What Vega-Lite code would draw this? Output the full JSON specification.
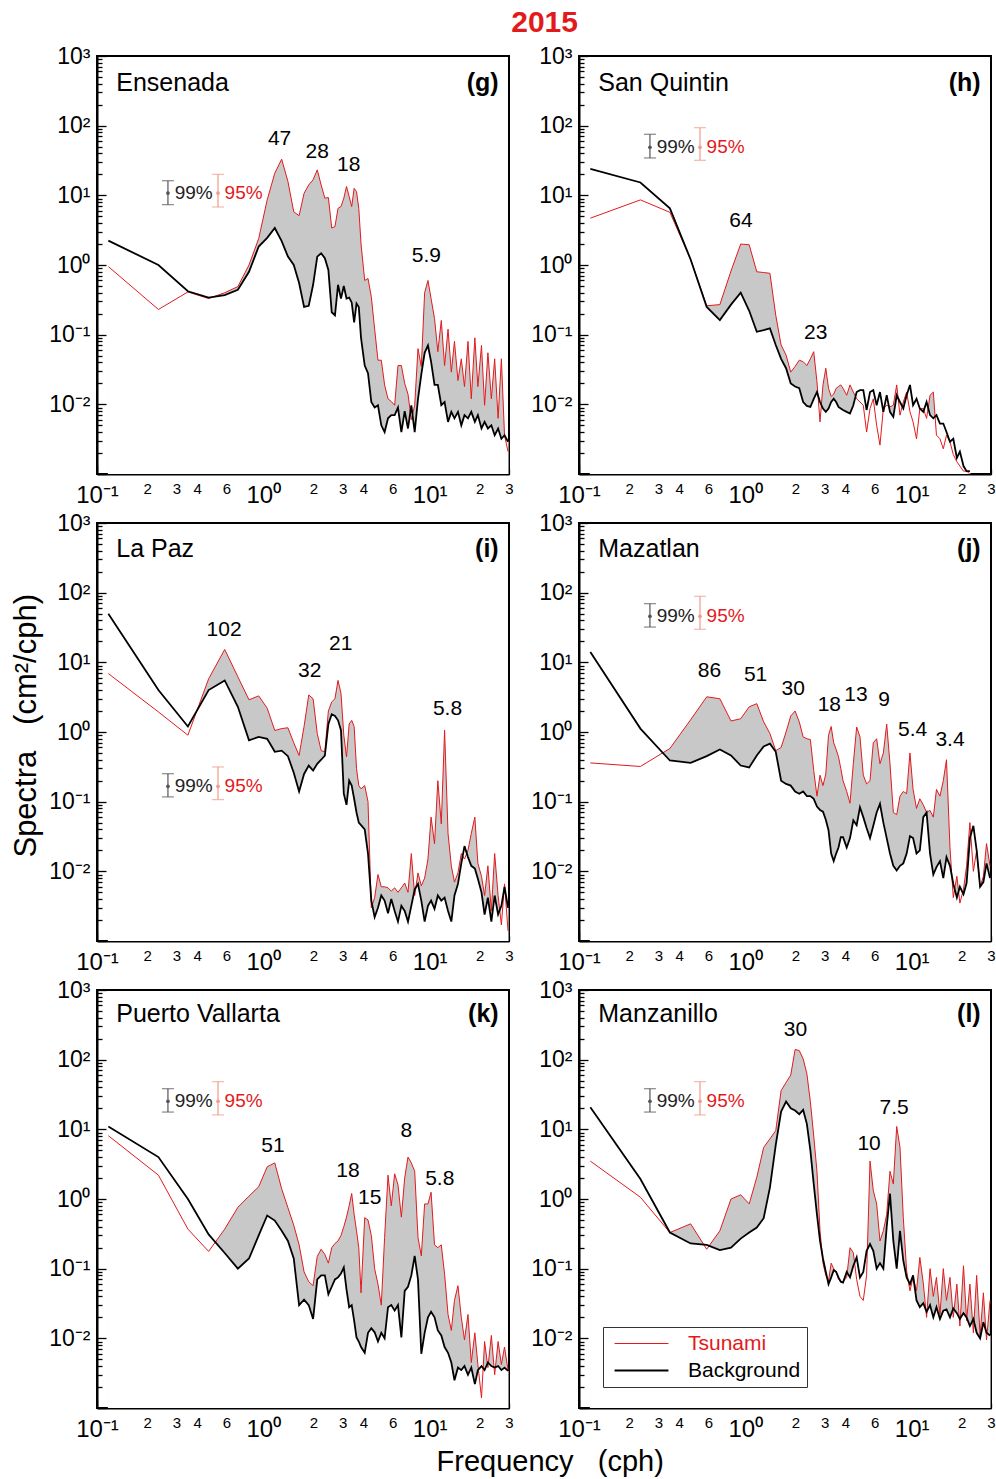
{
"$schema": "https://vega.github.io/schema/vega-lite/v6.json",
"background": "white",
"padding": {"left": 10, "top": 8, "right": 0, "bottom": 0},
"title": {"text": "2015", "color": "#e31a1c", "fontSize": 30, "fontWeight": "bold", "font": "Liberation Sans", "anchor": "middle", "offset": 6, "dx": 41},
"datasets": {
"panels": [
{"p":"g","r":1,"c":1},{"p":"h","r":1,"c":2},{"p":"i","r":2,"c":1},{"p":"j","r":2,"c":2},{"p":"k","r":3,"c":1},{"p":"l","r":3,"c":2}
]
},
"data": {"values": [
{"p":"g","f":0.117,"t":0.95,"b":2.24},{"p":"g","f":0.234,"t":0.23,"b":1.0},{"p":"g","f":0.352,"t":0.41,"b":0.42},{"p":"g","f":0.469,"t":0.33,"b":0.34},{"p":"g","f":0.586,"t":0.40,"b":0.37},{"p":"g","f":0.703,"t":0.49,"b":0.44},{"p":"g","f":0.82,"t":1.0,"b":0.80},{"p":"g","f":0.938,"t":2.4,"b":1.84},{"p":"g","f":1.055,"t":8.6,"b":2.45},{"p":"g","f":1.172,"t":20.8,"b":3.4},{"p":"g","f":1.289,"t":33,"b":2.2},{"p":"g","f":1.406,"t":15.8,"b":1.32},{"p":"g","f":1.524,"t":5.8,"b":1.0},{"p":"g","f":1.641,"t":5.1,"b":0.55},{"p":"g","f":1.758,"t":10.7,"b":0.25},{"p":"g","f":1.875,"t":14.1,"b":0.26},{"p":"g","f":1.992,"t":16.7,"b":0.52},{"p":"g","f":2.11,"t":23.2,"b":1.32},{"p":"g","f":2.227,"t":14.1,"b":1.47},{"p":"g","f":2.344,"t":9.1,"b":1.25},{"p":"g","f":2.461,"t":9.3,"b":0.85},{"p":"g","f":2.578,"t":3.4,"b":0.21},{"p":"g","f":2.696,"t":3.56,"b":0.19},{"p":"g","f":2.813,"t":6.5,"b":0.52},{"p":"g","f":2.93,"t":6.9,"b":0.33},{"p":"g","f":3.047,"t":9.1,"b":0.50},{"p":"g","f":3.164,"t":13.4,"b":0.33},{"p":"g","f":3.282,"t":9.6,"b":0.34},{"p":"g","f":3.399,"t":6.9,"b":0.29},{"p":"g","f":3.516,"t":12.6,"b":0.15},{"p":"g","f":3.633,"t":11.3,"b":0.28},{"p":"g","f":3.75,"t":6.5,"b":0.25},{"p":"g","f":3.868,"t":2.0,"b":0.09},{"p":"g","f":4.07,"t":0.6,"b":0.036},{"p":"g","f":4.26,"t":0.64,"b":0.028},{"p":"g","f":4.46,"t":0.35,"b":0.0108},{"p":"g","f":4.67,"t":0.12,"b":0.009},{"p":"g","f":4.89,"t":0.043,"b":0.0097},{"p":"g","f":5.12,"t":0.043,"b":0.005},{"p":"g","f":5.36,"t":0.019,"b":0.004},{"p":"g","f":5.62,"t":0.012,"b":0.0063},{"p":"g","f":5.88,"t":0.011,"b":0.007},{"p":"g","f":6.16,"t":0.0097,"b":0.007},{"p":"g","f":6.45,"t":0.036,"b":0.009},{"p":"g","f":6.76,"t":0.036,"b":0.004},{"p":"g","f":7.08,"t":0.02,"b":0.008},{"p":"g","f":7.41,"t":0.014,"b":0.0045},{"p":"g","f":7.76,"t":0.006,"b":0.0097},{"p":"g","f":8.13,"t":0.0097,"b":0.004},{"p":"g","f":8.51,"t":0.063,"b":0.012},{"p":"g","f":8.91,"t":0.035,"b":0.027},{"p":"g","f":9.33,"t":0.40,"b":0.055},{"p":"g","f":9.77,"t":0.6,"b":0.07},{"p":"g","f":10.2,"t":0.33,"b":0.041},{"p":"g","f":10.7,"t":0.17,"b":0.019},{"p":"g","f":11.2,"t":0.057,"b":0.019},{"p":"g","f":11.75,"t":0.16,"b":0.0097},{"p":"g","f":12.3,"t":0.036,"b":0.0108},{"p":"g","f":12.9,"t":0.12,"b":0.0056},{"p":"g","f":13.5,"t":0.029,"b":0.0078},{"p":"g","f":14.1,"t":0.08,"b":0.0063},{"p":"g","f":14.8,"t":0.022,"b":0.0078},{"p":"g","f":15.5,"t":0.045,"b":0.005},{"p":"g","f":16.2,"t":0.018,"b":0.007},{"p":"g","f":17.0,"t":0.08,"b":0.0063},{"p":"g","f":17.8,"t":0.012,"b":0.0078},{"p":"g","f":18.7,"t":0.09,"b":0.0056},{"p":"g","f":19.5,"t":0.018,"b":0.007},{"p":"g","f":20.5,"t":0.07,"b":0.0045},{"p":"g","f":21.4,"t":0.0097,"b":0.0056},{"p":"g","f":22.4,"t":0.055,"b":0.0045},{"p":"g","f":23.5,"t":0.012,"b":0.005},{"p":"g","f":24.6,"t":0.045,"b":0.0036},{"p":"g","f":25.8,"t":0.0063,"b":0.0045},{"p":"g","f":27.0,"t":0.045,"b":0.0032},{"p":"g","f":28.2,"t":0.0036,"b":0.0036},{"p":"g","f":29.6,"t":0.0021,"b":0.0029},
{"p":"h","f":0.117,"t":4.7,"b":24},{"p":"h","f":0.234,"t":8.6,"b":15.3},{"p":"h","f":0.352,"t":5.7,"b":6.5},{"p":"h","f":0.469,"t":1.2,"b":1.2},{"p":"h","f":0.586,"t":0.26,"b":0.25},{"p":"h","f":0.703,"t":0.27,"b":0.162},{"p":"h","f":0.82,"t":0.82,"b":0.27},{"p":"h","f":0.938,"t":2.0,"b":0.40},{"p":"h","f":1.055,"t":1.95,"b":0.22},{"p":"h","f":1.172,"t":0.80,"b":0.11},{"p":"h","f":1.289,"t":0.78,"b":0.116},{"p":"h","f":1.406,"t":0.76,"b":0.123},{"p":"h","f":1.524,"t":0.19,"b":0.071},{"p":"h","f":1.641,"t":0.071,"b":0.045},{"p":"h","f":1.758,"t":0.051,"b":0.033},{"p":"h","f":1.875,"t":0.029,"b":0.02},{"p":"h","f":1.992,"t":0.035,"b":0.018},{"p":"h","f":2.11,"t":0.043,"b":0.017},{"p":"h","f":2.227,"t":0.041,"b":0.0108},{"p":"h","f":2.344,"t":0.036,"b":0.0095},{"p":"h","f":2.461,"t":0.045,"b":0.0092},{"p":"h","f":2.578,"t":0.057,"b":0.012},{"p":"h","f":2.696,"t":0.021,"b":0.015},{"p":"h","f":2.813,"t":0.0056,"b":0.0108},{"p":"h","f":2.93,"t":0.019,"b":0.0087},{"p":"h","f":3.047,"t":0.033,"b":0.0078},{"p":"h","f":3.164,"t":0.017,"b":0.0087},{"p":"h","f":3.282,"t":0.013,"b":0.0108},{"p":"h","f":3.399,"t":0.014,"b":0.012},{"p":"h","f":3.516,"t":0.017,"b":0.0108},{"p":"h","f":3.633,"t":0.018,"b":0.0092},{"p":"h","f":3.75,"t":0.019,"b":0.0087},{"p":"h","f":3.868,"t":0.017,"b":0.0083},{"p":"h","f":4.07,"t":0.0135,"b":0.0078},{"p":"h","f":4.26,"t":0.019,"b":0.0074},{"p":"h","f":4.46,"t":0.015,"b":0.0097},{"p":"h","f":4.67,"t":0.012,"b":0.015},{"p":"h","f":4.89,"t":0.0108,"b":0.016},{"p":"h","f":5.12,"t":0.0097,"b":0.016},{"p":"h","f":5.36,"t":0.004,"b":0.0083},{"p":"h","f":5.62,"t":0.0087,"b":0.015},{"p":"h","f":5.88,"t":0.012,"b":0.016},{"p":"h","f":6.16,"t":0.005,"b":0.0097},{"p":"h","f":6.45,"t":0.0026,"b":0.015},{"p":"h","f":6.76,"t":0.0087,"b":0.0078},{"p":"h","f":7.08,"t":0.0097,"b":0.0135},{"p":"h","f":7.41,"t":0.0092,"b":0.0078},{"p":"h","f":7.76,"t":0.0097,"b":0.0066},{"p":"h","f":8.13,"t":0.019,"b":0.0135},{"p":"h","f":8.51,"t":0.007,"b":0.0108},{"p":"h","f":8.91,"t":0.0108,"b":0.0087},{"p":"h","f":9.33,"t":0.015,"b":0.0135},{"p":"h","f":9.77,"t":0.0078,"b":0.019},{"p":"h","f":10.2,"t":0.0056,"b":0.0097},{"p":"h","f":10.7,"t":0.0032,"b":0.012},{"p":"h","f":11.2,"t":0.0087,"b":0.0087},{"p":"h","f":11.75,"t":0.0087,"b":0.0078},{"p":"h","f":12.3,"t":0.0063,"b":0.0108},{"p":"h","f":12.9,"t":0.0135,"b":0.007},{"p":"h","f":13.5,"t":0.015,"b":0.0063},{"p":"h","f":14.1,"t":0.0036,"b":0.007},{"p":"h","f":14.8,"t":0.0032,"b":0.0053},{"p":"h","f":15.5,"t":0.0023,"b":0.0053},{"p":"h","f":16.2,"t":0.0036,"b":0.004},{"p":"h","f":17.0,"t":0.0029,"b":0.0029},{"p":"h","f":17.8,"t":0.0019,"b":0.0032},{"p":"h","f":18.7,"t":0.0015,"b":0.0017},{"p":"h","f":19.5,"t":0.0013,"b":0.0021},{"p":"h","f":20.5,"t":0.0011,"b":0.0013},{"p":"h","f":21.4,"t":0.0011,"b":0.0011},{"p":"h","f":22.4,"t":0.0010,"b":0.0011},
{"p":"i","f":0.117,"t":6.9,"b":50},{"p":"i","f":0.234,"t":1.94,"b":4.0},{"p":"i","f":0.352,"t":0.9,"b":1.2},{"p":"i","f":0.469,"t":5.8,"b":4.0},{"p":"i","f":0.586,"t":15.3,"b":5.5},{"p":"i","f":0.703,"t":6.2,"b":2.3},{"p":"i","f":0.82,"t":2.9,"b":0.76},{"p":"i","f":0.938,"t":3.3,"b":0.85},{"p":"i","f":1.055,"t":2.2,"b":0.80},{"p":"i","f":1.172,"t":1.05,"b":0.52},{"p":"i","f":1.289,"t":1.12,"b":0.54},{"p":"i","f":1.406,"t":1.15,"b":0.45},{"p":"i","f":1.524,"t":0.7,"b":0.26},{"p":"i","f":1.641,"t":0.46,"b":0.14},{"p":"i","f":1.758,"t":1.2,"b":0.25},{"p":"i","f":1.875,"t":3.4,"b":0.33},{"p":"i","f":1.992,"t":3.0,"b":0.28},{"p":"i","f":2.11,"t":0.95,"b":0.35},{"p":"i","f":2.227,"t":0.54,"b":0.40},{"p":"i","f":2.344,"t":0.52,"b":0.46},{"p":"i","f":2.461,"t":2.0,"b":1.3},{"p":"i","f":2.578,"t":2.7,"b":1.8},{"p":"i","f":2.696,"t":3.0,"b":1.7},{"p":"i","f":2.813,"t":5.5,"b":1.47},{"p":"i","f":2.93,"t":3.6,"b":1.06},{"p":"i","f":3.047,"t":0.9,"b":0.13},{"p":"i","f":3.164,"t":0.44,"b":0.09},{"p":"i","f":3.282,"t":1.3,"b":0.2},{"p":"i","f":3.399,"t":1.47,"b":0.17},{"p":"i","f":3.516,"t":1.2,"b":0.11},{"p":"i","f":3.633,"t":0.3,"b":0.07},{"p":"i","f":3.75,"t":0.17,"b":0.05},{"p":"i","f":3.868,"t":0.153,"b":0.046},{"p":"i","f":4.07,"t":0.17,"b":0.04},{"p":"i","f":4.26,"t":0.1,"b":0.018},{"p":"i","f":4.46,"t":0.003,"b":0.0038},{"p":"i","f":4.67,"t":0.0042,"b":0.0022},{"p":"i","f":4.89,"t":0.009,"b":0.003},{"p":"i","f":5.12,"t":0.006,"b":0.0045},{"p":"i","f":5.36,"t":0.006,"b":0.0038},{"p":"i","f":5.62,"t":0.0058,"b":0.0025},{"p":"i","f":5.88,"t":0.0052,"b":0.004},{"p":"i","f":6.16,"t":0.0058,"b":0.0027},{"p":"i","f":6.45,"t":0.005,"b":0.0019},{"p":"i","f":6.76,"t":0.0058,"b":0.0032},{"p":"i","f":7.08,"t":0.0068,"b":0.0027},{"p":"i","f":7.41,"t":0.005,"b":0.0019},{"p":"i","f":7.76,"t":0.018,"b":0.0032},{"p":"i","f":8.13,"t":0.0045,"b":0.0055},{"p":"i","f":8.51,"t":0.0095,"b":0.0066},{"p":"i","f":8.91,"t":0.0062,"b":0.0038},{"p":"i","f":9.33,"t":0.008,"b":0.0019},{"p":"i","f":9.77,"t":0.015,"b":0.0032},{"p":"i","f":10.2,"t":0.06,"b":0.0038},{"p":"i","f":10.7,"t":0.025,"b":0.0029},{"p":"i","f":11.2,"t":0.20,"b":0.0045},{"p":"i","f":11.75,"t":0.048,"b":0.0038},{"p":"i","f":12.3,"t":1.06,"b":0.0042},{"p":"i","f":12.9,"t":0.035,"b":0.0027},{"p":"i","f":13.5,"t":0.012,"b":0.0019},{"p":"i","f":14.1,"t":0.007,"b":0.0045},{"p":"i","f":14.8,"t":0.0095,"b":0.0066},{"p":"i","f":15.5,"t":0.018,"b":0.013},{"p":"i","f":16.2,"t":0.015,"b":0.023},{"p":"i","f":17.0,"t":0.02,"b":0.016},{"p":"i","f":17.8,"t":0.035,"b":0.012},{"p":"i","f":18.7,"t":0.06,"b":0.011},{"p":"i","f":19.5,"t":0.013,"b":0.0078},{"p":"i","f":20.5,"t":0.0085,"b":0.005},{"p":"i","f":21.4,"t":0.0045,"b":0.0024},{"p":"i","f":22.4,"t":0.012,"b":0.0042},{"p":"i","f":23.5,"t":0.0027,"b":0.0019},{"p":"i","f":24.6,"t":0.018,"b":0.0045},{"p":"i","f":25.8,"t":0.0045,"b":0.0024},{"p":"i","f":27.0,"t":0.0017,"b":0.0032},{"p":"i","f":28.2,"t":0.0066,"b":0.006},{"p":"i","f":29.6,"t":0.0014,"b":0.003},
{"p":"j","f":0.117,"t":0.36,"b":14.1},{"p":"j","f":0.234,"t":0.32,"b":1.12},{"p":"j","f":0.352,"t":0.58,"b":0.39},{"p":"j","f":0.469,"t":1.5,"b":0.36},{"p":"j","f":0.586,"t":3.2,"b":0.45},{"p":"j","f":0.703,"t":3.0,"b":0.56},{"p":"j","f":0.82,"t":1.44,"b":0.46},{"p":"j","f":0.938,"t":1.55,"b":0.33},{"p":"j","f":1.055,"t":2.3,"b":0.31},{"p":"j","f":1.172,"t":2.55,"b":0.46},{"p":"j","f":1.289,"t":1.4,"b":0.62},{"p":"j","f":1.406,"t":0.95,"b":0.68},{"p":"j","f":1.524,"t":0.54,"b":0.52},{"p":"j","f":1.641,"t":0.6,"b":0.2},{"p":"j","f":1.758,"t":1.0,"b":0.18},{"p":"j","f":1.875,"t":1.7,"b":0.17},{"p":"j","f":1.992,"t":2.0,"b":0.14},{"p":"j","f":2.11,"t":1.4,"b":0.13},{"p":"j","f":2.227,"t":0.85,"b":0.14},{"p":"j","f":2.344,"t":0.8,"b":0.12},{"p":"j","f":2.461,"t":0.78,"b":0.12},{"p":"j","f":2.578,"t":0.28,"b":0.11},{"p":"j","f":2.696,"t":0.12,"b":0.085},{"p":"j","f":2.813,"t":0.24,"b":0.076},{"p":"j","f":2.93,"t":0.17,"b":0.072},{"p":"j","f":3.047,"t":0.25,"b":0.055},{"p":"j","f":3.164,"t":0.9,"b":0.039},{"p":"j","f":3.282,"t":1.2,"b":0.018},{"p":"j","f":3.399,"t":0.7,"b":0.014},{"p":"j","f":3.516,"t":0.56,"b":0.018},{"p":"j","f":3.633,"t":0.44,"b":0.022},{"p":"j","f":3.75,"t":0.3,"b":0.031},{"p":"j","f":3.868,"t":0.2,"b":0.031},{"p":"j","f":4.07,"t":0.14,"b":0.022},{"p":"j","f":4.26,"t":0.095,"b":0.03},{"p":"j","f":4.46,"t":0.35,"b":0.054},{"p":"j","f":4.67,"t":1.18,"b":0.046},{"p":"j","f":4.89,"t":0.85,"b":0.083},{"p":"j","f":5.12,"t":0.24,"b":0.06},{"p":"j","f":5.36,"t":0.18,"b":0.042},{"p":"j","f":5.62,"t":0.2,"b":0.03},{"p":"j","f":5.88,"t":0.7,"b":0.045},{"p":"j","f":6.16,"t":0.8,"b":0.07},{"p":"j","f":6.45,"t":0.35,"b":0.093},{"p":"j","f":6.76,"t":0.5,"b":0.05},{"p":"j","f":7.08,"t":1.3,"b":0.03},{"p":"j","f":7.41,"t":0.35,"b":0.018},{"p":"j","f":7.76,"t":0.07,"b":0.012},{"p":"j","f":8.13,"t":0.065,"b":0.0103},{"p":"j","f":8.51,"t":0.12,"b":0.012},{"p":"j","f":8.91,"t":0.14,"b":0.013},{"p":"j","f":9.33,"t":0.13,"b":0.018},{"p":"j","f":9.77,"t":0.5,"b":0.032},{"p":"j","f":10.2,"t":0.15,"b":0.03},{"p":"j","f":10.7,"t":0.08,"b":0.018},{"p":"j","f":11.2,"t":0.11,"b":0.02},{"p":"j","f":11.75,"t":0.09,"b":0.06},{"p":"j","f":12.3,"t":0.07,"b":0.07},{"p":"j","f":12.9,"t":0.075,"b":0.018},{"p":"j","f":13.5,"t":0.06,"b":0.009},{"p":"j","f":14.1,"t":0.15,"b":0.0115},{"p":"j","f":14.8,"t":0.12,"b":0.014},{"p":"j","f":15.5,"t":0.2,"b":0.008},{"p":"j","f":16.2,"t":0.4,"b":0.016},{"p":"j","f":17.0,"t":0.022,"b":0.012},{"p":"j","f":17.8,"t":0.0042,"b":0.0066},{"p":"j","f":18.7,"t":0.0085,"b":0.0042},{"p":"j","f":19.5,"t":0.0035,"b":0.006},{"p":"j","f":20.5,"t":0.0055,"b":0.0047},{"p":"j","f":21.4,"t":0.012,"b":0.0068},{"p":"j","f":22.4,"t":0.05,"b":0.03},{"p":"j","f":23.5,"t":0.01,"b":0.045},{"p":"j","f":24.6,"t":0.02,"b":0.02},{"p":"j","f":25.8,"t":0.006,"b":0.006},{"p":"j","f":27.0,"t":0.0085,"b":0.007},{"p":"j","f":28.2,"t":0.025,"b":0.013},{"p":"j","f":29.6,"t":0.012,"b":0.008},
{"p":"k","f":0.117,"t":8.1,"b":11},{"p":"k","f":0.234,"t":2.2,"b":4.0},{"p":"k","f":0.352,"t":0.37,"b":1.0},{"p":"k","f":0.469,"t":0.177,"b":0.31},{"p":"k","f":0.586,"t":0.37,"b":0.168},{"p":"k","f":0.703,"t":0.76,"b":0.10},{"p":"k","f":0.82,"t":1.1,"b":0.14},{"p":"k","f":0.938,"t":1.5,"b":0.3},{"p":"k","f":1.055,"t":2.9,"b":0.58},{"p":"k","f":1.172,"t":3.3,"b":0.49},{"p":"k","f":1.289,"t":1.4,"b":0.35},{"p":"k","f":1.406,"t":0.75,"b":0.25},{"p":"k","f":1.524,"t":0.42,"b":0.14},{"p":"k","f":1.641,"t":0.22,"b":0.03},{"p":"k","f":1.758,"t":0.09,"b":0.036},{"p":"k","f":1.875,"t":0.065,"b":0.03},{"p":"k","f":1.992,"t":0.057,"b":0.019},{"p":"k","f":2.11,"t":0.15,"b":0.07},{"p":"k","f":2.227,"t":0.19,"b":0.08},{"p":"k","f":2.344,"t":0.16,"b":0.08},{"p":"k","f":2.461,"t":0.12,"b":0.043},{"p":"k","f":2.578,"t":0.2,"b":0.055},{"p":"k","f":2.696,"t":0.23,"b":0.07},{"p":"k","f":2.813,"t":0.25,"b":0.075},{"p":"k","f":2.93,"t":0.3,"b":0.085},{"p":"k","f":3.047,"t":0.4,"b":0.104},{"p":"k","f":3.164,"t":0.55,"b":0.05},{"p":"k","f":3.282,"t":0.8,"b":0.028},{"p":"k","f":3.399,"t":1.2,"b":0.03},{"p":"k","f":3.516,"t":0.6,"b":0.018},{"p":"k","f":3.633,"t":0.35,"b":0.0103},{"p":"k","f":3.75,"t":0.2,"b":0.009},{"p":"k","f":3.868,"t":0.045,"b":0.0075},{"p":"k","f":4.07,"t":0.54,"b":0.0062},{"p":"k","f":4.26,"t":0.5,"b":0.012},{"p":"k","f":4.46,"t":0.3,"b":0.014},{"p":"k","f":4.67,"t":0.1,"b":0.0122},{"p":"k","f":4.89,"t":0.06,"b":0.009},{"p":"k","f":5.12,"t":0.03,"b":0.012},{"p":"k","f":5.36,"t":0.28,"b":0.01},{"p":"k","f":5.62,"t":2.2,"b":0.028},{"p":"k","f":5.88,"t":0.8,"b":0.03},{"p":"k","f":6.16,"t":2.3,"b":0.025},{"p":"k","f":6.45,"t":1.6,"b":0.03},{"p":"k","f":6.76,"t":0.55,"b":0.0103},{"p":"k","f":7.08,"t":2.0,"b":0.048},{"p":"k","f":7.41,"t":4.0,"b":0.055},{"p":"k","f":7.76,"t":3.3,"b":0.08},{"p":"k","f":8.13,"t":2.5,"b":0.153},{"p":"k","f":8.51,"t":0.28,"b":0.07},{"p":"k","f":8.91,"t":0.153,"b":0.006},{"p":"k","f":9.33,"t":0.85,"b":0.012},{"p":"k","f":9.77,"t":0.85,"b":0.02},{"p":"k","f":10.2,"t":1.25,"b":0.024},{"p":"k","f":10.7,"t":0.22,"b":0.02},{"p":"k","f":11.2,"t":0.2,"b":0.013},{"p":"k","f":11.75,"t":0.22,"b":0.011},{"p":"k","f":12.3,"t":0.083,"b":0.0075},{"p":"k","f":12.9,"t":0.022,"b":0.0062},{"p":"k","f":13.5,"t":0.013,"b":0.0045},{"p":"k","f":14.1,"t":0.035,"b":0.0025},{"p":"k","f":14.8,"t":0.057,"b":0.0038},{"p":"k","f":15.5,"t":0.02,"b":0.0035},{"p":"k","f":16.2,"t":0.0095,"b":0.004},{"p":"k","f":17.0,"t":0.022,"b":0.003},{"p":"k","f":17.8,"t":0.0045,"b":0.0038},{"p":"k","f":18.7,"t":0.012,"b":0.0022},{"p":"k","f":19.5,"t":0.0042,"b":0.0035},{"p":"k","f":20.5,"t":0.0014,"b":0.004},{"p":"k","f":21.4,"t":0.009,"b":0.0035},{"p":"k","f":22.4,"t":0.0038,"b":0.0045},{"p":"k","f":23.5,"t":0.011,"b":0.004},{"p":"k","f":24.6,"t":0.003,"b":0.0038},{"p":"k","f":25.8,"t":0.009,"b":0.004},{"p":"k","f":27.0,"t":0.0042,"b":0.0035},{"p":"k","f":28.2,"t":0.0075,"b":0.0038},{"p":"k","f":29.6,"t":0.0035,"b":0.0034},
{"p":"l","f":0.117,"t":3.5,"b":20.8},{"p":"l","f":0.234,"t":1.06,"b":1.94},{"p":"l","f":0.352,"t":0.33,"b":0.33},{"p":"l","f":0.469,"t":0.44,"b":0.23},{"p":"l","f":0.586,"t":0.19,"b":0.22},{"p":"l","f":0.703,"t":0.35,"b":0.185},{"p":"l","f":0.82,"t":1.0,"b":0.2},{"p":"l","f":0.938,"t":1.15,"b":0.27},{"p":"l","f":1.055,"t":0.85,"b":0.33},{"p":"l","f":1.172,"t":2.05,"b":0.39},{"p":"l","f":1.289,"t":5.5,"b":0.53},{"p":"l","f":1.406,"t":7.3,"b":1.47},{"p":"l","f":1.524,"t":9.6,"b":6.0},{"p":"l","f":1.641,"t":36,"b":18},{"p":"l","f":1.758,"t":47,"b":25},{"p":"l","f":1.875,"t":60,"b":20},{"p":"l","f":1.992,"t":140,"b":18.6},{"p":"l","f":2.11,"t":135,"b":16.5},{"p":"l","f":2.227,"t":103,"b":19},{"p":"l","f":2.344,"t":63,"b":12},{"p":"l","f":2.461,"t":25,"b":5.0},{"p":"l","f":2.578,"t":8,"b":1.64},{"p":"l","f":2.696,"t":2.5,"b":0.6},{"p":"l","f":2.813,"t":0.35,"b":0.25},{"p":"l","f":2.93,"t":0.12,"b":0.14},{"p":"l","f":3.047,"t":0.08,"b":0.09},{"p":"l","f":3.164,"t":0.067,"b":0.06},{"p":"l","f":3.282,"t":0.12,"b":0.075},{"p":"l","f":3.399,"t":0.1,"b":0.095},{"p":"l","f":3.516,"t":0.09,"b":0.09},{"p":"l","f":3.633,"t":0.07,"b":0.075},{"p":"l","f":3.75,"t":0.065,"b":0.065},{"p":"l","f":3.868,"t":0.065,"b":0.063},{"p":"l","f":4.07,"t":0.075,"b":0.09},{"p":"l","f":4.26,"t":0.2,"b":0.075},{"p":"l","f":4.46,"t":0.17,"b":0.11},{"p":"l","f":4.67,"t":0.07,"b":0.145},{"p":"l","f":4.89,"t":0.04,"b":0.075},{"p":"l","f":5.12,"t":0.035,"b":0.09},{"p":"l","f":5.36,"t":0.08,"b":0.18},{"p":"l","f":5.62,"t":3.5,"b":0.225},{"p":"l","f":5.88,"t":1.32,"b":0.18},{"p":"l","f":6.16,"t":0.85,"b":0.1},{"p":"l","f":6.45,"t":0.25,"b":0.12},{"p":"l","f":6.76,"t":0.35,"b":0.1},{"p":"l","f":7.08,"t":0.6,"b":0.4},{"p":"l","f":7.41,"t":2.5,"b":1.2},{"p":"l","f":7.76,"t":1.64,"b":0.25},{"p":"l","f":8.13,"t":11,"b":0.1},{"p":"l","f":8.51,"t":5.5,"b":0.35},{"p":"l","f":8.91,"t":0.54,"b":0.13},{"p":"l","f":9.33,"t":0.093,"b":0.075},{"p":"l","f":9.77,"t":0.048,"b":0.06},{"p":"l","f":10.2,"t":0.075,"b":0.08},{"p":"l","f":10.7,"t":0.048,"b":0.035},{"p":"l","f":11.2,"t":0.145,"b":0.028},{"p":"l","f":11.75,"t":0.062,"b":0.032},{"p":"l","f":12.3,"t":0.02,"b":0.024},{"p":"l","f":12.9,"t":0.1,"b":0.03},{"p":"l","f":13.5,"t":0.04,"b":0.02},{"p":"l","f":14.1,"t":0.075,"b":0.028},{"p":"l","f":14.8,"t":0.022,"b":0.019},{"p":"l","f":15.5,"t":0.1,"b":0.025},{"p":"l","f":16.2,"t":0.035,"b":0.026},{"p":"l","f":17.0,"t":0.075,"b":0.02},{"p":"l","f":17.8,"t":0.02,"b":0.027},{"p":"l","f":18.7,"t":0.06,"b":0.023},{"p":"l","f":19.5,"t":0.015,"b":0.019},{"p":"l","f":20.5,"t":0.11,"b":0.023},{"p":"l","f":21.4,"t":0.018,"b":0.02},{"p":"l","f":22.4,"t":0.06,"b":0.015},{"p":"l","f":23.5,"t":0.012,"b":0.019},{"p":"l","f":24.6,"t":0.08,"b":0.012},{"p":"l","f":25.8,"t":0.011,"b":0.01},{"p":"l","f":27.0,"t":0.045,"b":0.017},{"p":"l","f":28.2,"t":0.0095,"b":0.012},{"p":"l","f":29.6,"t":0.035,"b":0.011},
{"k":"l","p":"g","f":1.253,"v":65,"txt":"47"},{"k":"l","p":"g","f":2.11,"v":41.7,"txt":"28"},{"k":"l","p":"g","f":3.26,"v":27.5,"txt":"18"},{"k":"l","p":"g","f":9.55,"v":1.36,"txt":"5.9"},
{"k":"l","p":"h","f":0.942,"v":4.3,"txt":"64"},{"k":"l","p":"h","f":2.65,"v":0.104,"txt":"23"},
{"k":"l","p":"i","f":0.581,"v":29,"txt":"102"},{"k":"l","p":"i","f":1.9,"v":7.47,"txt":"32"},{"k":"l","p":"i","f":2.92,"v":18.3,"txt":"21"},{"k":"l","p":"i","f":12.8,"v":2.12,"txt":"5.8"},
{"k":"l","p":"j","f":0.608,"v":7.55,"txt":"86"},{"k":"l","p":"j","f":1.153,"v":6.55,"txt":"51"},{"k":"l","p":"j","f":1.94,"v":4.2,"txt":"30"},{"k":"l","p":"j","f":3.2,"v":2.42,"txt":"18"},{"k":"l","p":"j","f":4.63,"v":3.37,"txt":"13"},{"k":"l","p":"j","f":6.82,"v":2.86,"txt":"9"},{"k":"l","p":"j","f":10.14,"v":1.06,"txt":"5.4"},{"k":"l","p":"j","f":17.0,"v":0.76,"txt":"3.4"},
{"k":"l","p":"k","f":1.143,"v":5.85,"txt":"51"},{"k":"l","p":"k","f":3.23,"v":2.5,"txt":"18"},{"k":"l","p":"k","f":4.36,"v":1.03,"txt":"15"},{"k":"l","p":"k","f":7.24,"v":9.6,"txt":"8"},{"k":"l","p":"k","f":11.5,"v":1.94,"txt":"5.8"},
{"k":"l","p":"l","f":2.0,"v":264,"txt":"30"},{"k":"l","p":"l","f":5.55,"v":6.2,"txt":"10"},{"k":"l","p":"l","f":7.84,"v":20.4,"txt":"7.5"},
{"k":"n","p":"g","f":0.1306,"v":406,"txt":"Ensenada"},{"k":"n","p":"h","f":0.1306,"v":406,"txt":"San Quintin"},{"k":"n","p":"i","f":0.1306,"v":425,"txt":"La Paz"},{"k":"n","p":"j","f":0.1306,"v":425,"txt":"Mazatlan"},{"k":"n","p":"k","f":0.1306,"v":449,"txt":"Puerto Vallarta"},{"k":"n","p":"l","f":0.1306,"v":449,"txt":"Manzanillo"},
{"k":"g","p":"g","f":26,"v":406,"txt":"(g)"},{"k":"g","p":"h","f":26,"v":406,"txt":"(h)"},{"k":"g","p":"i","f":26,"v":425,"txt":"(i)"},{"k":"g","p":"j","f":26,"v":425,"txt":"(j)"},{"k":"g","p":"k","f":26,"v":449,"txt":"(k)"},{"k":"g","p":"l","f":26,"v":449,"txt":"(l)"},
{"k":"e","s":"99","p":"g","f":0.267,"lo":7.34,"hi":16.2,"v":10.8},{"k":"e","s":"95","p":"g","f":0.534,"lo":6.8,"hi":20.0,"v":10.8},
{"k":"e","s":"99","p":"h","f":0.267,"lo":34.4,"hi":75.2,"v":49},{"k":"e","s":"95","p":"h","f":0.534,"lo":31.8,"hi":93.5,"v":49},
{"k":"e","s":"99","p":"i","f":0.267,"lo":0.117,"hi":0.252,"v":0.166},{"k":"e","s":"95","p":"i","f":0.534,"lo":0.107,"hi":0.315,"v":0.166},
{"k":"e","s":"99","p":"j","f":0.267,"lo":32.1,"hi":69.5,"v":45.8},{"k":"e","s":"95","p":"j","f":0.534,"lo":29.8,"hi":88.7,"v":45.8},
{"k":"e","s":"99","p":"k","f":0.267,"lo":17.7,"hi":38.3,"v":25.3},{"k":"e","s":"95","p":"k","f":0.534,"lo":16.1,"hi":48.3,"v":25.3},
{"k":"e","s":"99","p":"l","f":0.267,"lo":17.7,"hi":38.3,"v":25.3},{"k":"e","s":"95","p":"l","f":0.534,"lo":16.1,"hi":48.3,"v":25.3},
{"k":"q","s":"99","p":"g","f":0.293,"v":10.8,"txt":"99%"},{"k":"q","s":"95","p":"g","f":0.585,"v":10.8,"txt":"95%"},
{"k":"q","s":"99","p":"h","f":0.293,"v":49,"txt":"99%"},{"k":"q","s":"95","p":"h","f":0.585,"v":49,"txt":"95%"},
{"k":"q","s":"99","p":"i","f":0.293,"v":0.166,"txt":"99%"},{"k":"q","s":"95","p":"i","f":0.585,"v":0.166,"txt":"95%"},
{"k":"q","s":"99","p":"j","f":0.293,"v":45.8,"txt":"99%"},{"k":"q","s":"95","p":"j","f":0.585,"v":45.8,"txt":"95%"},
{"k":"q","s":"99","p":"k","f":0.293,"v":25.3,"txt":"99%"},{"k":"q","s":"95","p":"k","f":0.585,"v":25.3,"txt":"95%"},
{"k":"q","s":"99","p":"l","f":0.293,"v":25.3,"txt":"99%"},{"k":"q","s":"95","p":"l","f":0.585,"v":25.3,"txt":"95%"}
]},
"transform": [{"lookup": "p", "from": {"data": {"name": "panels"}, "key": "p", "fields": ["r", "c"]}}],
"facet": {
"row": {"field": "r", "type": "ordinal", "title": "\u200b\u00a0\u00a0\u00a0\u00a0Spectra \u00a0\u00a0(cm²/cph)", "header": {"labels": false, "titleFontSize": 31, "titleFontWeight": "normal", "titleFont": "Liberation Sans", "titleColor": "black", "titlePadding": 44}},
"column": {"field": "c", "type": "ordinal", "title": "\u200b\u00a0\u00a0\u00a0\u00a0\u00a0\u00a0\u00a0Frequency \u00a0\u00a0(cph)", "header": {"labels": false, "titleOrient": "bottom", "titleFontSize": 29, "titleFontWeight": "normal", "titleFont": "Liberation Sans", "titleColor": "black", "titlePadding": 30}}
},
"spacing": {"row": 49, "column": 70},
"bounds": "flush",
"resolve": {"axis": {"x": "independent", "y": "independent"}},
"spec": {
"width": 412,
"height": 418,
"encoding": {
"x": {"field": "f", "type": "quantitative",
"scale": {"type": "log", "domain": [0.1, 30], "nice": false},
"axis": {"title": null,
"values": [0.1,0.2,0.3,0.4,0.5,0.6,0.7,0.8,0.9,1,2,3,4,5,6,7,8,9,10,20,30],
"labelExpr": "abs(log(datum.value)/LN10 - round(log(datum.value)/LN10)) < 0.01 ? ['10⁻¹','10⁰','10¹'][round(log(datum.value)/LN10) + 1] : (indexof([2,3,4,6], round(datum.value / pow(10, floor(log(datum.value)/LN10 + 0.000001)))) >= 0 ? '' + round(datum.value / pow(10, floor(log(datum.value)/LN10 + 0.000001))) : '')",
"labelFontSize": {"condition": {"test": "abs(log(datum.value)/LN10 - round(log(datum.value)/LN10)) < 0.01", "value": 24}, "value": 15},
"tickSize": {"condition": {"test": "abs(log(datum.value)/LN10 - round(log(datum.value)/LN10)) < 0.01", "value": -9}, "value": -5},
"labelPadding": {"condition": {"test": "abs(log(datum.value)/LN10 - round(log(datum.value)/LN10)) < 0.01", "value": 18}, "value": 12},
"labelFlush": false, "labelOverlap": false, "labelBound": false, "labelAngle": 0}
}
},
"layer": [
{"transform": [{"filter": "isValid(datum.t)"}],
"mark": {"type": "area", "color": "#c8c8c8", "clip": true},
"encoding": {
"y": {"field": "t", "type": "quantitative", "scale": {"type": "log", "domain": [0.001, 1000], "nice": false},
"axis": {"title": null, "values": [0.001,0.002,0.003,0.004,0.005,0.006,0.007,0.008,0.009,0.01,0.02,0.03,0.04,0.05,0.06,0.07,0.08,0.09,0.1,0.2,0.3,0.4,0.5,0.6,0.7,0.8,0.9,1,2,3,4,5,6,7,8,9,10,20,30,40,50,60,70,80,90,100,200,300,400,500,600,700,800,900,1000], "labelExpr": "datum.value < 0.0015 || abs(log(datum.value)/LN10 - round(log(datum.value)/LN10)) > 0.01 ? '' : ['10⁻²','10⁻¹','10⁰','10¹','10²','10³'][round(log(datum.value)/LN10) + 2]", "tickSize": {"condition": {"test": "abs(log(datum.value)/LN10 - round(log(datum.value)/LN10)) < 0.01", "value": -9}, "value": -5}}},
"y2": {"datum": 0.001}
}},
{"transform": [{"filter": "isValid(datum.t)"}],
"mark": {"type": "area", "color": "white", "stroke": "white", "strokeWidth": 1, "clip": true},
"encoding": {
"y": {"field": "b", "type": "quantitative", "scale": {"type": "log", "domain": [0.001, 1000], "nice": false},
"axis": {"title": null, "values": [0.001,0.002,0.003,0.004,0.005,0.006,0.007,0.008,0.009,0.01,0.02,0.03,0.04,0.05,0.06,0.07,0.08,0.09,0.1,0.2,0.3,0.4,0.5,0.6,0.7,0.8,0.9,1,2,3,4,5,6,7,8,9,10,20,30,40,50,60,70,80,90,100,200,300,400,500,600,700,800,900,1000], "labelExpr": "datum.value < 0.0015 || abs(log(datum.value)/LN10 - round(log(datum.value)/LN10)) > 0.01 ? '' : ['10⁻²','10⁻¹','10⁰','10¹','10²','10³'][round(log(datum.value)/LN10) + 2]", "tickSize": {"condition": {"test": "abs(log(datum.value)/LN10 - round(log(datum.value)/LN10)) < 0.01", "value": -9}, "value": -5}}},
"y2": {"datum": 0.001}
}},
{"transform": [{"filter": "isValid(datum.t)"}],
"mark": {"type": "line", "strokeWidth": 1, "clip": true},
"encoding": {
"y": {"field": "t", "type": "quantitative", "scale": {"type": "log", "domain": [0.001, 1000], "nice": false},
"axis": {"title": null, "values": [0.001,0.002,0.003,0.004,0.005,0.006,0.007,0.008,0.009,0.01,0.02,0.03,0.04,0.05,0.06,0.07,0.08,0.09,0.1,0.2,0.3,0.4,0.5,0.6,0.7,0.8,0.9,1,2,3,4,5,6,7,8,9,10,20,30,40,50,60,70,80,90,100,200,300,400,500,600,700,800,900,1000], "labelExpr": "datum.value < 0.0015 || abs(log(datum.value)/LN10 - round(log(datum.value)/LN10)) > 0.01 ? '' : ['10⁻²','10⁻¹','10⁰','10¹','10²','10³'][round(log(datum.value)/LN10) + 2]", "tickSize": {"condition": {"test": "abs(log(datum.value)/LN10 - round(log(datum.value)/LN10)) < 0.01", "value": -9}, "value": -5}}},
"color": {"datum": "Tsunami", "type": "nominal",
"scale": {"domain": ["Tsunami", "Background"], "range": ["#e31a1c", "#000000"]},
"legend": {"orient": "none", "legendX": 506, "legendY": 1271, "title": null,
"symbolType": "stroke", "symbolSize": 2900, "symbolStrokeWidth": 1.5, "symbolOffset": 22,
"labelFontSize": 21, "labelFont": "Liberation Sans", "labelOffset": 36,
"strokeColor": "#333", "fillColor": "white", "padding": 6, "rowPadding": 5,
"encode": {"labels": {"update": {"fill": {"signal": "datum.label == 'Tsunami' ? '#e31a1c' : '#000000'"}}},
"symbols": {"update": {"strokeWidth": {"signal": "datum.label == 'Tsunami' ? 1 : 2"}}}}}}
}},
{"transform": [{"filter": "isValid(datum.t)"}],
"mark": {"type": "line", "strokeWidth": 1.8, "clip": true},
"encoding": {
"y": {"field": "b", "type": "quantitative", "scale": {"type": "log", "domain": [0.001, 1000], "nice": false},
"axis": {"title": null, "values": [0.001,0.002,0.003,0.004,0.005,0.006,0.007,0.008,0.009,0.01,0.02,0.03,0.04,0.05,0.06,0.07,0.08,0.09,0.1,0.2,0.3,0.4,0.5,0.6,0.7,0.8,0.9,1,2,3,4,5,6,7,8,9,10,20,30,40,50,60,70,80,90,100,200,300,400,500,600,700,800,900,1000], "labelExpr": "datum.value < 0.0015 || abs(log(datum.value)/LN10 - round(log(datum.value)/LN10)) > 0.01 ? '' : ['10⁻²','10⁻¹','10⁰','10¹','10²','10³'][round(log(datum.value)/LN10) + 2]", "tickSize": {"condition": {"test": "abs(log(datum.value)/LN10 - round(log(datum.value)/LN10)) < 0.01", "value": -9}, "value": -5}}},
"color": {"datum": "Background", "type": "nominal"}
}},
{"transform": [{"filter": "datum.k == 'e' && datum.s == '99'"}],
"mark": {"type": "errorbar", "color": "#555555", "thickness": 1.2, "ticks": {"size": 12}},
"encoding": {
"y": {"field": "lo", "type": "quantitative", "scale": {"type": "log", "domain": [0.001, 1000], "nice": false},
"axis": {"title": null, "values": [0.001,0.002,0.003,0.004,0.005,0.006,0.007,0.008,0.009,0.01,0.02,0.03,0.04,0.05,0.06,0.07,0.08,0.09,0.1,0.2,0.3,0.4,0.5,0.6,0.7,0.8,0.9,1,2,3,4,5,6,7,8,9,10,20,30,40,50,60,70,80,90,100,200,300,400,500,600,700,800,900,1000], "labelExpr": "datum.value < 0.0015 || abs(log(datum.value)/LN10 - round(log(datum.value)/LN10)) > 0.01 ? '' : ['10⁻²','10⁻¹','10⁰','10¹','10²','10³'][round(log(datum.value)/LN10) + 2]", "tickSize": {"condition": {"test": "abs(log(datum.value)/LN10 - round(log(datum.value)/LN10)) < 0.01", "value": -9}, "value": -5}}},
"y2": {"field": "hi"}
}},
{"transform": [{"filter": "datum.k == 'e' && datum.s == '95'"}],
"mark": {"type": "errorbar", "color": "#f29a8a", "thickness": 1.2, "ticks": {"size": 12}},
"encoding": {
"y": {"field": "lo", "type": "quantitative", "scale": {"type": "log", "domain": [0.001, 1000], "nice": false},
"axis": {"title": null, "values": [0.001,0.002,0.003,0.004,0.005,0.006,0.007,0.008,0.009,0.01,0.02,0.03,0.04,0.05,0.06,0.07,0.08,0.09,0.1,0.2,0.3,0.4,0.5,0.6,0.7,0.8,0.9,1,2,3,4,5,6,7,8,9,10,20,30,40,50,60,70,80,90,100,200,300,400,500,600,700,800,900,1000], "labelExpr": "datum.value < 0.0015 || abs(log(datum.value)/LN10 - round(log(datum.value)/LN10)) > 0.01 ? '' : ['10⁻²','10⁻¹','10⁰','10¹','10²','10³'][round(log(datum.value)/LN10) + 2]", "tickSize": {"condition": {"test": "abs(log(datum.value)/LN10 - round(log(datum.value)/LN10)) < 0.01", "value": -9}, "value": -5}}},
"y2": {"field": "hi"}
}},
{"transform": [{"filter": "datum.k == 'e'"}],
"mark": {"type": "point", "filled": true, "size": 14, "opacity": 1},
"encoding": {
"y": {"field": "v", "type": "quantitative", "scale": {"type": "log", "domain": [0.001, 1000], "nice": false},
"axis": {"title": null, "values": [0.001,0.002,0.003,0.004,0.005,0.006,0.007,0.008,0.009,0.01,0.02,0.03,0.04,0.05,0.06,0.07,0.08,0.09,0.1,0.2,0.3,0.4,0.5,0.6,0.7,0.8,0.9,1,2,3,4,5,6,7,8,9,10,20,30,40,50,60,70,80,90,100,200,300,400,500,600,700,800,900,1000], "labelExpr": "datum.value < 0.0015 || abs(log(datum.value)/LN10 - round(log(datum.value)/LN10)) > 0.01 ? '' : ['10⁻²','10⁻¹','10⁰','10¹','10²','10³'][round(log(datum.value)/LN10) + 2]", "tickSize": {"condition": {"test": "abs(log(datum.value)/LN10 - round(log(datum.value)/LN10)) < 0.01", "value": -9}, "value": -5}}},
"color": {"condition": {"test": "datum.s == '95'", "value": "#f29a8a"}, "value": "#555555"}
}},
{"transform": [{"filter": "datum.k == 'q'"}],
"mark": {"type": "text", "align": "left", "baseline": "middle", "fontSize": 19, "font": "Liberation Sans"},
"encoding": {
"y": {"field": "v", "type": "quantitative", "scale": {"type": "log", "domain": [0.001, 1000], "nice": false},
"axis": {"title": null, "values": [0.001,0.002,0.003,0.004,0.005,0.006,0.007,0.008,0.009,0.01,0.02,0.03,0.04,0.05,0.06,0.07,0.08,0.09,0.1,0.2,0.3,0.4,0.5,0.6,0.7,0.8,0.9,1,2,3,4,5,6,7,8,9,10,20,30,40,50,60,70,80,90,100,200,300,400,500,600,700,800,900,1000], "labelExpr": "datum.value < 0.0015 || abs(log(datum.value)/LN10 - round(log(datum.value)/LN10)) > 0.01 ? '' : ['10⁻²','10⁻¹','10⁰','10¹','10²','10³'][round(log(datum.value)/LN10) + 2]", "tickSize": {"condition": {"test": "abs(log(datum.value)/LN10 - round(log(datum.value)/LN10)) < 0.01", "value": -9}, "value": -5}}},
"text": {"field": "txt"},
"color": {"condition": {"test": "datum.s == '95'", "value": "#e31a1c"}, "value": "#222222"}
}},
{"transform": [{"filter": "datum.k == 'l'"}],
"mark": {"type": "text", "align": "center", "baseline": "middle", "fontSize": 21, "font": "Liberation Sans", "color": "black"},
"encoding": {
"y": {"field": "v", "type": "quantitative", "scale": {"type": "log", "domain": [0.001, 1000], "nice": false},
"axis": {"title": null, "values": [0.001,0.002,0.003,0.004,0.005,0.006,0.007,0.008,0.009,0.01,0.02,0.03,0.04,0.05,0.06,0.07,0.08,0.09,0.1,0.2,0.3,0.4,0.5,0.6,0.7,0.8,0.9,1,2,3,4,5,6,7,8,9,10,20,30,40,50,60,70,80,90,100,200,300,400,500,600,700,800,900,1000], "labelExpr": "datum.value < 0.0015 || abs(log(datum.value)/LN10 - round(log(datum.value)/LN10)) > 0.01 ? '' : ['10⁻²','10⁻¹','10⁰','10¹','10²','10³'][round(log(datum.value)/LN10) + 2]", "tickSize": {"condition": {"test": "abs(log(datum.value)/LN10 - round(log(datum.value)/LN10)) < 0.01", "value": -9}, "value": -5}}},
"text": {"field": "txt"}
}},
{"transform": [{"filter": "datum.k == 'n'"}],
"mark": {"type": "text", "align": "left", "baseline": "middle", "fontSize": 25, "font": "Liberation Sans", "color": "black"},
"encoding": {
"y": {"field": "v", "type": "quantitative", "scale": {"type": "log", "domain": [0.001, 1000], "nice": false},
"axis": {"title": null, "values": [0.001,0.002,0.003,0.004,0.005,0.006,0.007,0.008,0.009,0.01,0.02,0.03,0.04,0.05,0.06,0.07,0.08,0.09,0.1,0.2,0.3,0.4,0.5,0.6,0.7,0.8,0.9,1,2,3,4,5,6,7,8,9,10,20,30,40,50,60,70,80,90,100,200,300,400,500,600,700,800,900,1000], "labelExpr": "datum.value < 0.0015 || abs(log(datum.value)/LN10 - round(log(datum.value)/LN10)) > 0.01 ? '' : ['10⁻²','10⁻¹','10⁰','10¹','10²','10³'][round(log(datum.value)/LN10) + 2]", "tickSize": {"condition": {"test": "abs(log(datum.value)/LN10 - round(log(datum.value)/LN10)) < 0.01", "value": -9}, "value": -5}}},
"text": {"field": "txt"}
}},
{"transform": [{"filter": "datum.k == 'g'"}],
"mark": {"type": "text", "align": "right", "baseline": "middle", "fontSize": 25, "fontWeight": "bold", "font": "Liberation Sans", "color": "black"},
"encoding": {
"y": {"field": "v", "type": "quantitative", "scale": {"type": "log", "domain": [0.001, 1000], "nice": false},
"axis": {"title": null, "values": [0.001,0.002,0.003,0.004,0.005,0.006,0.007,0.008,0.009,0.01,0.02,0.03,0.04,0.05,0.06,0.07,0.08,0.09,0.1,0.2,0.3,0.4,0.5,0.6,0.7,0.8,0.9,1,2,3,4,5,6,7,8,9,10,20,30,40,50,60,70,80,90,100,200,300,400,500,600,700,800,900,1000], "labelExpr": "datum.value < 0.0015 || abs(log(datum.value)/LN10 - round(log(datum.value)/LN10)) > 0.01 ? '' : ['10⁻²','10⁻¹','10⁰','10¹','10²','10³'][round(log(datum.value)/LN10) + 2]", "tickSize": {"condition": {"test": "abs(log(datum.value)/LN10 - round(log(datum.value)/LN10)) < 0.01", "value": -9}, "value": -5}}},
"text": {"field": "txt"}
}}
]
},
"config": {
"font": "Liberation Sans",
"view": {"stroke": "black", "strokeWidth": 2},
"axis": {"domainColor": "black", "domainWidth": 2, "tickColor": "black", "tickWidth": 1.3, "labelColor": "black", "labelFont": "Liberation Sans", "grid": false, "zindex": 1},
"axisY": {"labelFontSize": 23, "labelPadding": 16, "labelFlush": false, "labelOverlap": false, "labelBound": false}
}
}
